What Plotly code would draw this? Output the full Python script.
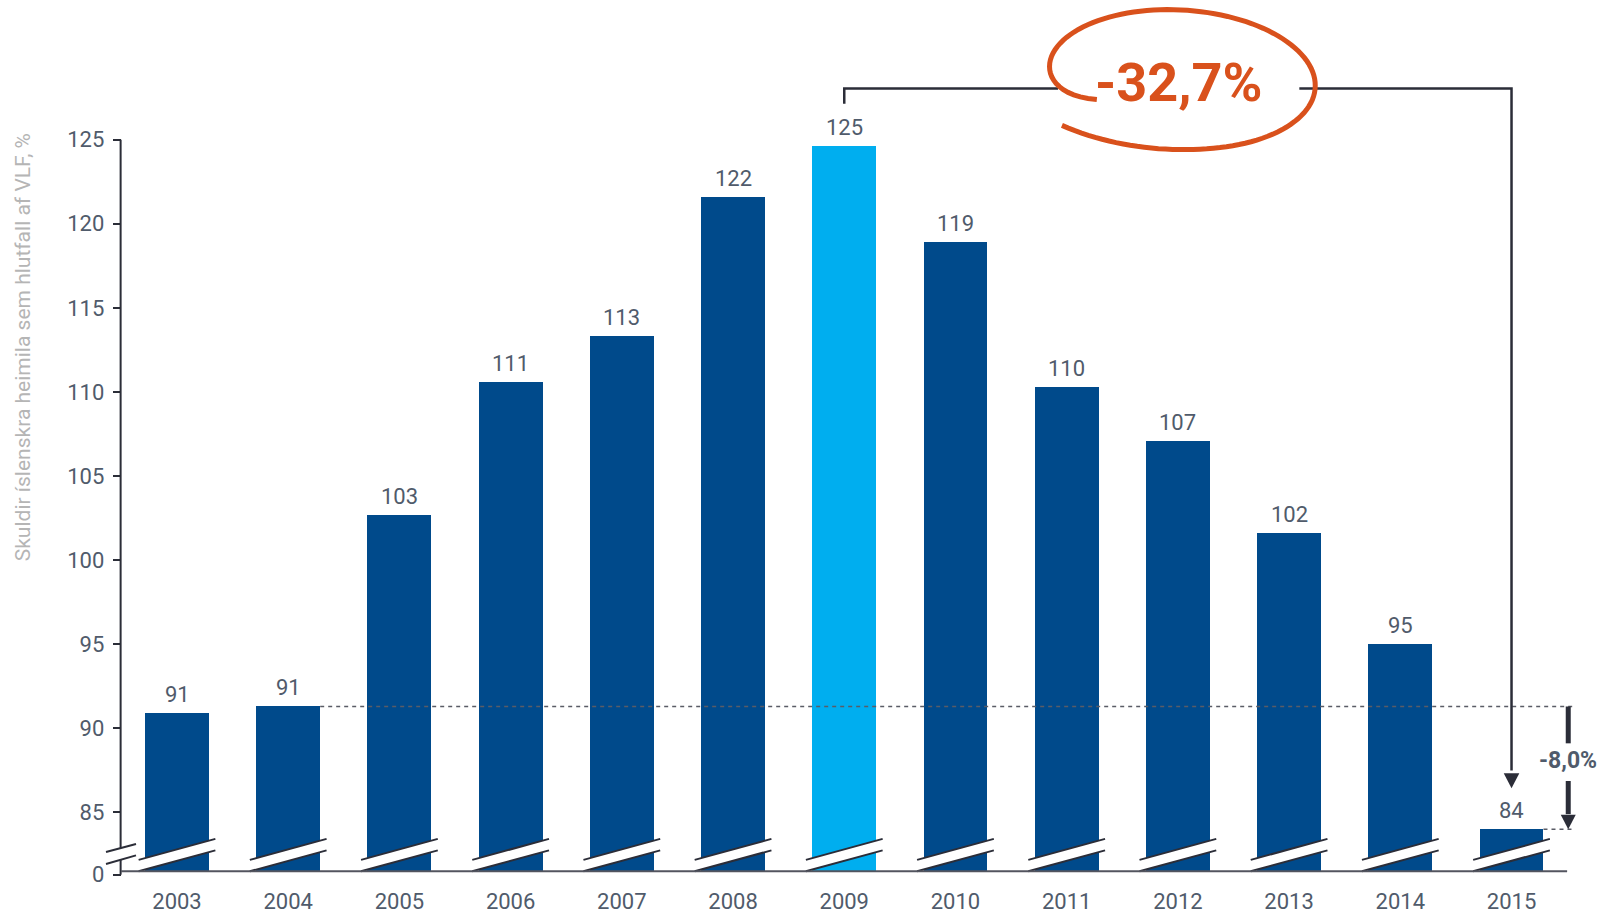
import math
import plotly.graph_objects as go

# Household debt as a share of GDP, by year
years = list(range(2003, 2016))
debt_ratio = [90.9, 91.3, 102.7, 110.6, 113.3, 121.6, 124.6, 118.9, 110.3, 107.1, 101.6, 95.0, 84.0]
peak_year = 2009
ref_year = 2004

y_tick_vals = [81.3, 85, 90, 95, 100, 105, 110, 115, 120, 125]
y_tick_text = ["0", "85", "90", "95", "100", "105", "110", "115", "120", "125"]

y_title = "Skuldir íslenskra heimila sem hlutfall af VLF, %"
peak_change_text = "-32,7%"
ref_change_text = "-8,0%"

# styling
DARK_BLUE = "#004A8B"
LIGHT_BLUE = "#00AEEF"
ORANGE = "#D9511C"
INK = "#2B2D38"
LABEL = "#505B6B"
FONT = "Roboto"

FLOOR = 81.5          # where the broken axis starts (drawn as "0")
BAR_W = 0.575
X_RANGE = [2002.3076, 2015.8226]
Y_RANGE = [81.103, 133.304]
PX_X = 111.21         # pixels per category
PX_Y = 16.86          # pixels per y unit


def dx(px):
    return px / PX_X


def dy(px):
    return px / PX_Y


fig = go.Figure()

fig.add_trace(go.Bar(
    x=years,
    y=[v - FLOOR for v in debt_ratio],
    base=FLOOR,
    width=BAR_W,
    marker=dict(color=[LIGHT_BLUE if yr == peak_year else DARK_BLUE for yr in years],
                line=dict(width=0)),
    hoverinfo="skip",
))

shapes = []
annotations = []

# value labels
for yr, v in zip(years, debt_ratio):
    annotations.append(dict(
        x=yr, y=v, xref="x", yref="y", text=f"{round(v)}", showarrow=False,
        yanchor="bottom", yshift=4, font=dict(family=FONT, size=22, color=LABEL),
    ))

# axis break marks on each bar
for yr in years:
    xl, xr = yr - 0.345, yr + 0.345
    top_l, top_r = FLOOR + dy(11.5), FLOOR + dy(32.5)
    bot_l, bot_r = FLOOR, FLOOR + dy(21)
    shapes.append(dict(
        type="path", xref="x", yref="y",
        path=f"M {xl},{top_l} L {xr},{top_r} L {xr},{bot_r} L {xl},{bot_l} Z",
        fillcolor="white", line=dict(width=0),
    ))
    for (a, b) in [((xl, top_l), (xr, top_r)), ((xl, bot_l), (xr, bot_r))]:
        shapes.append(dict(type="line", xref="x", yref="y",
                           x0=a[0], y0=a[1], x1=b[0], y1=b[1],
                           line=dict(color=INK, width=2)))

# baseline along the bottom
shapes.append(dict(type="line", xref="x", yref="y", x0=2002.5, x1=2015.5,
                   y0=FLOOR, y1=FLOOR, line=dict(color="#53555F", width=2)))

# y axis line with a break
axis_x = 2002.493
shapes.append(dict(type="line", xref="x", yref="y", x0=axis_x, x1=axis_x,
                   y0=125, y1=82.88, line=dict(color=INK, width=2)))
shapes.append(dict(type="line", xref="x", yref="y", x0=axis_x, x1=axis_x,
                   y0=82.19, y1=y_tick_vals[0], line=dict(color=INK, width=2)))
for y_left, y_right in [(82.645, 83.119), (81.933, 82.449)]:
    shapes.append(dict(type="line", xref="x", yref="y",
                       x0=2002.3616, y0=y_left, x1=2002.6313, y1=y_right,
                       line=dict(color=INK, width=2)))

# reference level of 2004 and 2015 (dashed)
ref_val = debt_ratio[years.index(ref_year)]
last_val = debt_ratio[-1]
shapes.append(dict(type="line", xref="x", yref="y",
                   x0=ref_year + BAR_W / 2, x1=2015.571, y0=ref_val, y1=ref_val,
                   line=dict(color="#5A5C66", width=1.5, dash="4px,4px")))
shapes.append(dict(type="line", xref="x", yref="y",
                   x0=years[-1] + BAR_W / 2, x1=2015.571, y0=last_val, y1=last_val,
                   line=dict(color="#5A5C66", width=1.5, dash="4px,4px")))

# bracket from the peak to the latest year
peak_val = debt_ratio[years.index(peak_year)]
bracket_y = 128.04
gap_l, gap_r = 2010.922, 2013.092
line_style = dict(color=INK, width=2.5)
shapes.append(dict(type="path", xref="x", yref="y",
                   path=f"M {peak_year},127.135 L {peak_year},{bracket_y} L {gap_l},{bracket_y}",
                   line=line_style))
shapes.append(dict(type="path", xref="x", yref="y",
                   path=f"M {gap_r},{bracket_y} L {years[-1]},{bracket_y} L {years[-1]},87.5",
                   line=line_style))
tip_y = 86.44
shapes.append(dict(type="path", xref="x", yref="y",
                   path=(f"M {years[-1] - dx(7.8)},{tip_y + dy(15)} "
                         f"L {years[-1] + dx(7.8)},{tip_y + dy(15)} L {years[-1]},{tip_y} Z"),
                   fillcolor=INK, line=dict(width=0)))

# -8,0% double marker on the right
mx = 2015.51
shapes.append(dict(type="line", xref="x", yref="y", x0=mx, x1=mx, y0=ref_val, y1=89.11,
                   line=dict(color=INK, width=5)))
shapes.append(dict(type="line", xref="x", yref="y", x0=mx, x1=mx, y0=86.87, y1=84.9,
                   line=dict(color=INK, width=5)))
shapes.append(dict(type="path", xref="x", yref="y",
                   path=(f"M {mx - dx(7.5)},{last_val + dy(14.5)} "
                         f"L {mx + dx(7.5)},{last_val + dy(14.5)} L {mx},{last_val} Z"),
                   fillcolor=INK, line=dict(width=0)))
annotations.append(dict(x=mx, y=88.07, xref="x", yref="y", text=f"<b>{ref_change_text}</b>",
                        showarrow=False, font=dict(family=FONT, size=23, color=LABEL)))

# hand-drawn loop around the headline change
cx, cy = 2012.023, 128.588
a_px, b_px = 135.0, 69.5
tilt = math.radians(3.6)
pts = []
n = 120
for i in range(n + 1):
    t = i / n
    th = math.radians(211 - 349 * t)
    r = 1 - 0.29 * math.exp(-t / 0.04) + 0.15 * max(0.0, (t - 0.8) / 0.2) ** 2
    ox = a_px * r * math.cos(th)
    oy = -b_px * r * math.sin(th)          # screen space, y down
    rx = ox * math.cos(tilt) - oy * math.sin(tilt)
    ry = ox * math.sin(tilt) + oy * math.cos(tilt)
    pts.append((cx + dx(rx), cy - dy(ry)))
loop_path = "M " + " L ".join(f"{p[0]:.4f},{p[1]:.4f}" for p in pts)
shapes.append(dict(type="path", xref="x", yref="y", path=loop_path,
                   line=dict(color=ORANGE, width=5)))
annotations.append(dict(x=2012.001, y=128.41, xref="x", yref="y",
                        text=f"<b>{peak_change_text}</b>", showarrow=False,
                        font=dict(family=FONT, size=54, color=ORANGE)))

# y axis title
annotations.append(dict(x=-0.0516, y=0.605, xref="paper", yref="paper", text=y_title,
                        textangle=-90, showarrow=False, xanchor="center", yanchor="middle",
                        font=dict(family=FONT, size=21, color="#B5B5B5")))

fig.update_layout(
    width=1603, height=914,
    margin=dict(l=100, r=0, t=0, b=34),
    plot_bgcolor="white", paper_bgcolor="white",
    showlegend=False,
    bargap=0,
    shapes=shapes,
    annotations=annotations,
    xaxis=dict(range=X_RANGE, tickvals=years, ticktext=[str(y) for y in years],
               showgrid=False, zeroline=False, showline=False, ticks="",
               tickfont=dict(family=FONT, size=22, color=LABEL), ticklabelstandoff=8),
    yaxis=dict(range=Y_RANGE, tickvals=y_tick_vals, ticktext=y_tick_text,
               anchor="free", position=0.01377,
               showgrid=False, zeroline=False, showline=False,
               ticks="outside", ticklen=8, tickwidth=2, tickcolor=INK,
               tickfont=dict(family=FONT, size=22, color=LABEL), ticklabelstandoff=4),
    font=dict(family=FONT),
)

fig.write_html("out.html")
